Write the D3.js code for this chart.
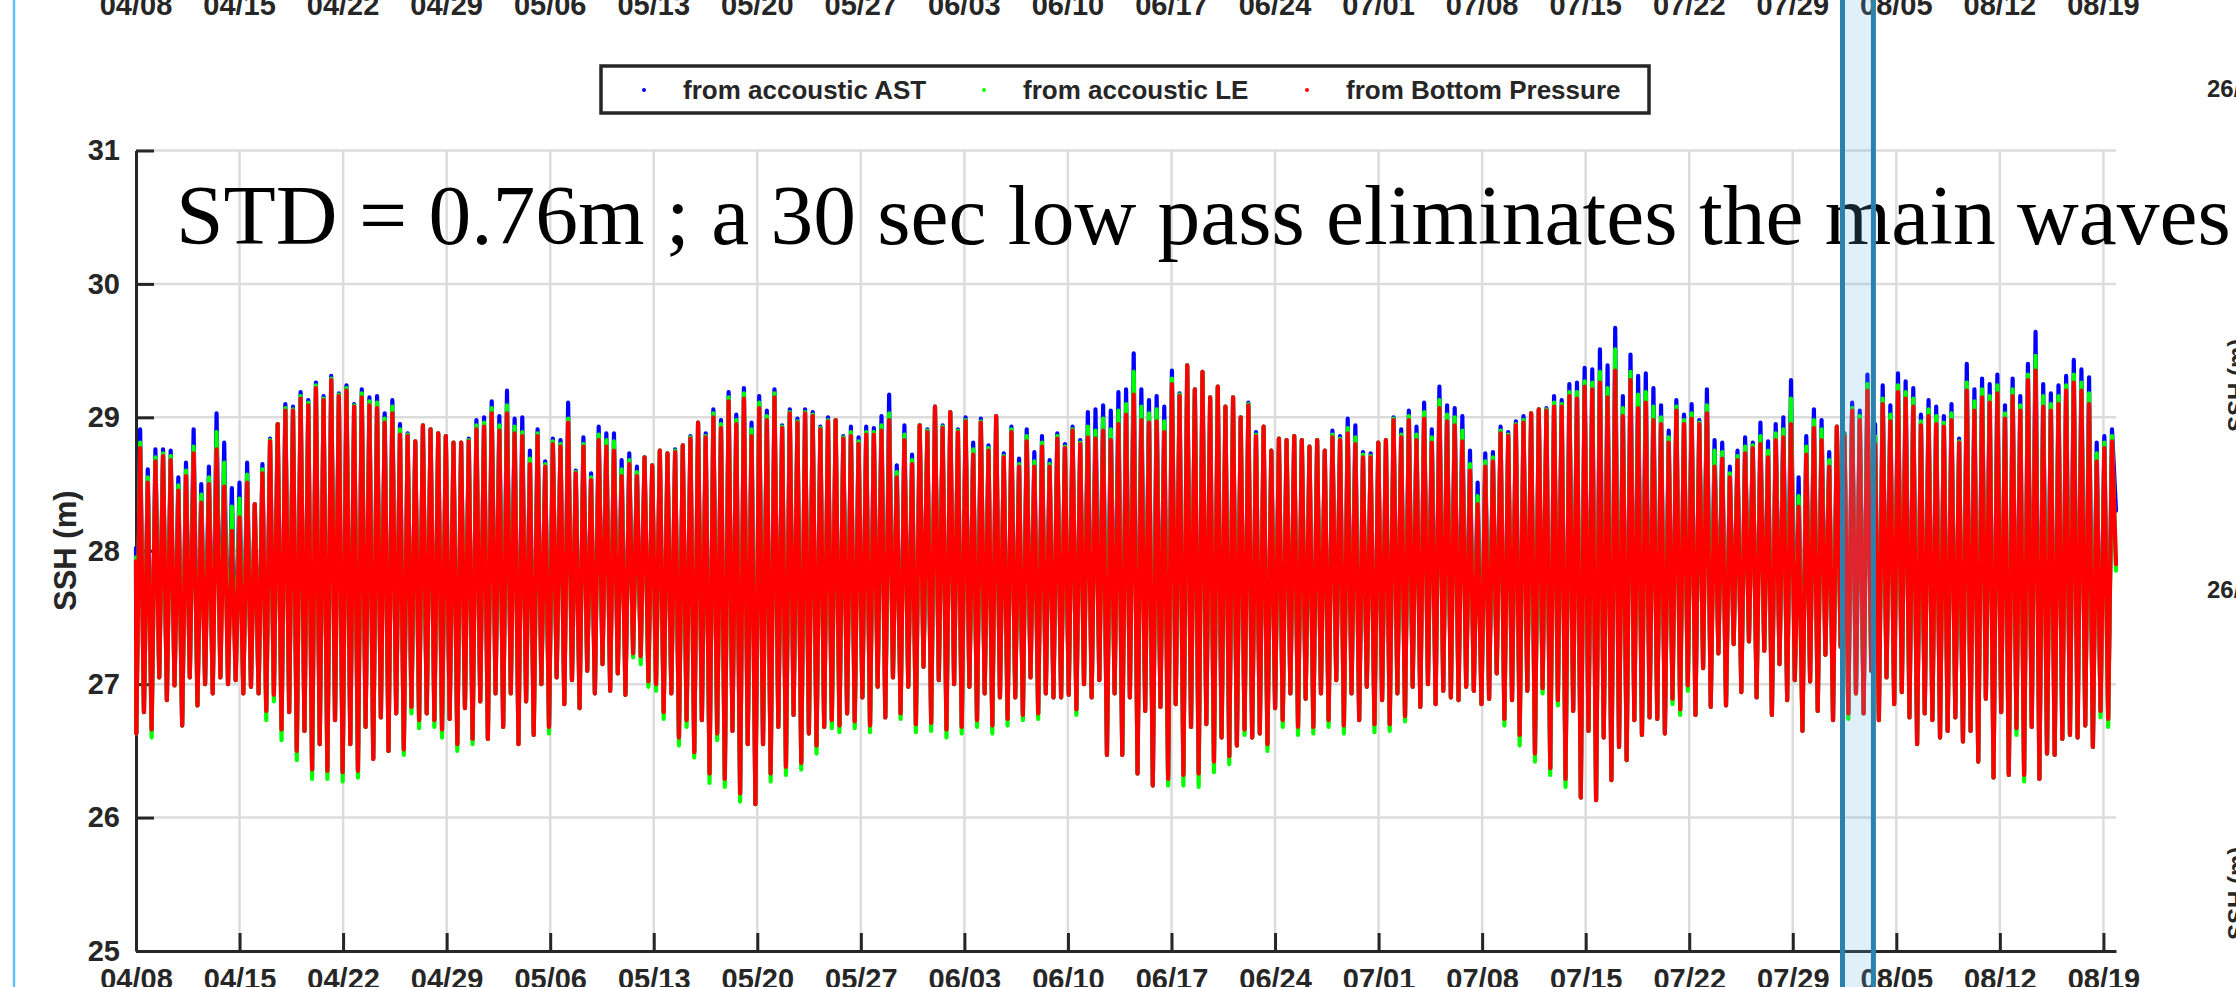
<!DOCTYPE html>
<html>
<head>
<meta charset="utf-8">
<script src="https://cdn.jsdelivr.net/npm/d3@7"></script>
<style>
  html, body { margin: 0; padding: 0; background: #fff; }
  svg { display: block; }
  .sans { font-family: "Liberation Sans", Arial, Helvetica, sans-serif; font-weight: bold; fill: #262626; }
</style>
</head>
<body>
<svg id="chart" width="2236" height="987"></svg>
<script>
const WIDTH = 2236;
const HEIGHT = 987;
const YEAR = 2018;

// axis ticks
const yTicks = [25, 26, 27, 28, 29, 30, 31];
const xTickLabels = ["04/08", "04/15", "04/22", "04/29", "05/06", "05/13", "05/20", "05/27", "06/03", "06/10",
  "06/17", "06/24", "07/01", "07/08", "07/15", "07/22", "07/29", "08/05", "08/12", "08/19"];

const seriesNames = ["from accoustic AST", "from accoustic LE", "from Bottom Pressure"];
const seriesColors = ["#0000ff", "#00ff00", "#ff0000"];
const note = "STD = 0.76m ; a 30 sec low pass eliminates the main waves";

// record timing: first low water and the semidiurnal step between extremes
const recordStart = "2018/04/08 00:00";
const recordEnd = "2018/08/19 20:24";
const firstLowAt = "2018/04/08 00:30";
const tideStepHours = 12.4;

// highlighted window
const windowStart = "2018/08/01 08:40";
const windowEnd = "2018/08/03 10:50";

// first and last samples of each series [AST, LE, BP]
const startLevels = [28.02, 27.95, 27.92];
const endLevels = [28.30, 27.85, 27.90];

// high waters, one per tidal cycle (m)
const blueHigh = [
  28.91, 28.61, 28.76, 28.76, 28.75, 28.55, 28.66, 28.91, 28.50, 28.63,
  29.03, 28.81, 28.47, 28.51, 28.66, 28.35, 28.65, 28.84, 28.95, 29.10,
  29.08, 29.19, 29.13, 29.26, 29.16, 29.31, 29.18, 29.24, 29.10, 29.21,
  29.15, 29.16, 29.03, 29.13, 28.95, 28.88, 28.82, 28.94, 28.91, 28.88,
  28.86, 28.81, 28.81, 28.84, 28.98, 29.00, 29.12, 29.01, 29.20, 28.99,
  29.00, 28.75, 28.91, 28.67, 28.84, 28.83, 29.11, 28.60, 28.85, 28.58,
  28.93, 28.88, 28.88, 28.68, 28.73, 28.63, 28.70, 28.64, 28.75, 28.73,
  28.76, 28.79, 28.86, 28.96, 28.88, 29.06, 28.98, 29.19, 29.02, 29.22,
  28.96, 29.16, 29.05, 29.21, 28.94, 29.06, 28.99, 29.06, 29.04, 28.93,
  29.00,
  28.98, 28.86, 28.93, 28.85, 28.93, 28.92, 29.01, 29.17, 28.64, 28.94,
  28.72, 28.94, 28.91, 29.08, 28.94, 29.04, 28.91, 29.00, 28.81, 28.99,
  28.79, 29.01, 28.73, 28.93, 28.69, 28.91, 28.74, 28.86, 28.68, 28.88,
  28.80, 28.93, 28.83, 29.04, 29.06, 29.09, 29.05, 29.19, 29.21, 29.48,
  29.21, 29.13, 29.16, 29.08, 29.35, 29.18, 29.39, 29.21, 29.34, 29.15,
  29.23, 29.08, 29.15, 29.00, 29.11, 28.89, 28.93, 28.75, 28.84, 28.83,
  28.86, 28.83, 28.78, 28.83, 28.75, 28.90, 28.86, 28.99, 28.94, 28.74,
  28.73, 28.81, 28.83, 29.00, 28.91, 29.05, 28.93, 29.11, 28.91, 29.23,
  29.09, 29.07, 29.01, 28.75, 28.51, 28.73, 28.74, 28.93, 28.89, 28.97,
  29.01,
  29.03, 29.06, 29.07, 29.16, 29.13, 29.25, 29.26, 29.37, 29.36, 29.51,
  29.39, 29.67, 29.16, 29.47, 29.31, 29.33, 29.22, 29.09, 28.90, 29.13,
  29.02, 29.10, 28.98, 29.21, 28.83, 28.81, 28.63, 28.75, 28.85, 28.81,
  28.96, 28.82, 28.95, 29.00, 29.28, 28.55, 28.86, 29.06, 28.98, 28.74,
  28.93, 28.88, 29.11, 29.05, 29.32, 28.95, 29.24, 29.09, 29.33, 29.27,
  29.22, 29.02, 29.13, 29.08, 29.01, 29.10, 28.84, 29.40, 29.21, 29.29,
  29.25, 29.32, 29.09, 29.29, 29.16, 29.40, 29.64, 29.25, 29.18, 29.24,
  29.31, 29.43, 29.36, 29.30, 28.81, 28.86, 28.91
];

const greenHigh = [
  28.81, 28.55, 28.70, 28.73, 28.71, 28.49, 28.60, 28.78, 28.42, 28.55,
  28.89, 28.66, 28.33, 28.39, 28.57, 28.35, 28.61, 28.83, 28.95, 29.07,
  29.06, 29.16, 29.11, 29.24, 29.14, 29.29, 29.17, 29.22, 29.09, 29.18,
  29.12, 29.11, 28.99, 29.08, 28.91, 28.87, 28.82, 28.94, 28.91, 28.88,
  28.86, 28.81, 28.81, 28.83, 28.94, 28.96, 29.07, 28.94, 29.09, 28.93,
  28.89, 28.69, 28.88, 28.65, 28.82, 28.80, 28.99, 28.59, 28.80, 28.55,
  28.87, 28.83, 28.82, 28.61, 28.68, 28.59, 28.70, 28.64, 28.75, 28.73,
  28.75, 28.79, 28.85, 28.96, 28.86, 29.03, 28.95, 29.15, 28.98, 29.18,
  28.91, 29.11, 29.01, 29.18, 28.93, 29.04, 28.97, 29.04, 29.02, 28.92,
  28.98,
  28.98, 28.85, 28.89, 28.82, 28.89, 28.89, 28.94, 29.03, 28.59, 28.87,
  28.68, 28.94, 28.90, 29.08, 28.93, 29.04, 28.90, 28.98, 28.76, 28.97,
  28.77, 29.01, 28.71, 28.91, 28.65, 28.86, 28.67, 28.81, 28.65, 28.86,
  28.78, 28.91, 28.81, 28.93, 28.90, 28.99, 28.91, 29.05, 29.10, 29.34,
  29.08, 29.03, 29.06, 28.97, 29.29, 29.17, 29.39, 29.21, 29.34, 29.15,
  29.23, 29.08, 29.15, 29.00, 29.10, 28.87, 28.93, 28.75, 28.84, 28.83,
  28.86, 28.83, 28.78, 28.83, 28.75, 28.87, 28.84, 28.92, 28.85, 28.72,
  28.71, 28.81, 28.83, 28.99, 28.87, 29.01, 28.87, 29.04, 28.85, 29.13,
  29.02, 29.00, 28.90, 28.65, 28.41, 28.67, 28.70, 28.90, 28.87, 28.95,
  28.98,
  29.03, 29.06, 29.06, 29.11, 29.10, 29.19, 29.19, 29.27, 29.26, 29.34,
  29.22, 29.51, 29.07, 29.34, 29.17, 29.19, 29.08, 29.00, 28.85, 29.08,
  28.98, 29.03, 28.96, 29.09, 28.75, 28.74, 28.58, 28.71, 28.78, 28.79,
  28.86, 28.75, 28.88, 28.91, 29.14, 28.41, 28.78, 28.98, 28.91, 28.68,
  28.93, 28.87, 29.07, 29.01, 29.25, 28.86, 29.14, 29.02, 29.24, 29.19,
  29.14, 28.97, 29.06, 29.01, 28.96, 29.03, 28.82, 29.26, 29.12, 29.21,
  29.16, 29.24, 29.03, 29.21, 29.09, 29.32, 29.46, 29.16, 29.10, 29.16,
  29.24, 29.32, 29.26, 29.18, 28.73, 28.81, 28.86
];

const redHigh = [
  28.77, 28.51, 28.67, 28.71, 28.68, 28.45, 28.56, 28.73, 28.36, 28.50,
  28.76, 28.48, 28.15, 28.25, 28.51, 28.35, 28.58, 28.82, 28.95, 29.05,
  29.05, 29.14, 29.09, 29.22, 29.13, 29.28, 29.16, 29.20, 29.08, 29.15,
  29.09, 29.07, 28.96, 29.03, 28.87, 28.86, 28.82, 28.94, 28.91, 28.88,
  28.86, 28.81, 28.81, 28.82, 28.91, 28.93, 29.03, 28.90, 29.03, 28.88,
  28.86, 28.65, 28.86, 28.63, 28.80, 28.78, 28.96, 28.58, 28.78, 28.53,
  28.83, 28.78, 28.75, 28.56, 28.65, 28.56, 28.70, 28.64, 28.75, 28.73,
  28.74, 28.79, 28.84, 28.96, 28.85, 29.00, 28.92, 29.12, 28.95, 29.14,
  28.86, 29.07, 28.98, 29.15, 28.92, 29.03, 28.96, 29.03, 29.01, 28.91,
  28.97,
  28.98, 28.84, 28.86, 28.80, 28.87, 28.87, 28.90, 28.98, 28.55, 28.83,
  28.65, 28.94, 28.89, 29.08, 28.92, 29.04, 28.89, 28.97, 28.72, 28.96,
  28.75, 29.01, 28.70, 28.89, 28.63, 28.82, 28.63, 28.78, 28.63, 28.84,
  28.77, 28.90, 28.80, 28.85, 28.84, 28.90, 28.83, 28.95, 29.02, 29.17,
  28.98, 28.96, 28.97, 28.89, 29.25, 29.16, 29.39, 29.21, 29.34, 29.15,
  29.23, 29.08, 29.15, 29.00, 29.09, 28.86, 28.93, 28.75, 28.84, 28.83,
  28.86, 28.83, 28.78, 28.83, 28.75, 28.85, 28.83, 28.88, 28.80, 28.70,
  28.70, 28.81, 28.83, 28.98, 28.85, 28.98, 28.83, 28.99, 28.81, 29.07,
  28.97, 28.94, 28.82, 28.60, 28.35, 28.63, 28.67, 28.88, 28.86, 28.94,
  28.96,
  29.03, 29.06, 29.05, 29.08, 29.08, 29.16, 29.14, 29.23, 29.21, 29.26,
  29.15, 29.35, 29.01, 29.28, 29.07, 29.11, 28.98, 28.95, 28.81, 29.05,
  28.95, 28.99, 28.95, 29.03, 28.63, 28.69, 28.55, 28.68, 28.73, 28.77,
  28.80, 28.70, 28.83, 28.85, 28.95, 28.33, 28.72, 28.92, 28.83, 28.63,
  28.93, 28.86, 29.05, 28.98, 29.20, 28.80, 29.10, 28.97, 29.19, 29.14,
  29.08, 28.94, 29.01, 28.95, 28.93, 28.98, 28.81, 29.20, 29.05, 29.15,
  29.11, 29.18, 28.99, 29.16, 29.05, 29.28, 29.35, 29.08, 29.05, 29.10,
  29.20, 29.26, 29.20, 29.10, 28.67, 28.77, 28.82
];

// low waters, one per tidal cycle (m)
const greenLow = [
  26.63, 26.79, 26.60, 27.05, 26.88, 26.99, 26.69, 27.05, 26.84, 27.00,
  26.93, 27.05, 27.00, 27.03, 26.93, 26.98, 26.93, 26.73, 26.87, 26.58,
  26.79, 26.43, 26.65, 26.29, 26.55, 26.29, 26.73, 26.27, 26.55, 26.30,
  26.68, 26.44, 26.75, 26.50, 26.78, 26.47, 26.78, 26.67, 26.78, 26.68,
  26.60, 26.74, 26.50, 26.82, 26.55, 26.87, 26.59, 26.93, 26.68, 26.93,
  26.55, 26.87, 26.62, 27.00, 26.63, 27.05, 26.85, 27.03, 26.82, 27.10,
  26.93, 27.15, 26.95, 27.08, 26.92, 27.20, 27.15, 26.98, 26.95, 26.74,
  26.93, 26.54, 26.68, 26.45, 26.73, 26.26, 26.58, 26.23, 26.65, 26.12,
  26.55, 26.10, 26.55, 26.27, 26.68, 26.32, 26.77, 26.36, 26.63, 26.48,
  26.68,
  26.67, 26.64, 26.78, 26.67, 26.90, 26.64, 26.98, 26.75, 27.05, 26.74,
  26.98, 26.64, 27.13, 26.65, 27.03, 26.60, 27.00, 26.63, 26.98, 26.68,
  26.93, 26.63, 26.90, 26.69, 26.90, 26.73, 27.05, 26.74, 26.93, 26.90,
  26.90, 26.92, 26.77, 27.00, 26.90, 27.03, 26.47, 26.93, 26.47, 26.90,
  26.33, 26.80, 26.24, 26.83, 26.24, 26.85, 26.24, 26.68, 26.23, 26.70,
  26.34, 26.60, 26.40, 26.54, 26.62, 26.60, 26.63, 26.50, 26.82, 26.68,
  26.93, 26.62, 26.89, 26.63, 26.93, 26.68, 27.03, 26.63, 26.93, 26.73,
  26.98, 26.64, 26.88, 26.65, 26.93, 26.72, 26.98, 26.83, 27.00, 26.85,
  26.95, 26.90, 26.88, 26.98, 26.95, 26.85, 26.89, 27.08, 26.69, 26.88,
  26.54,
  26.95, 26.42, 26.93, 26.32, 26.84, 26.23, 26.80, 26.15, 26.65, 26.13,
  26.60, 26.28, 26.53, 26.43, 26.73, 26.62, 26.75, 26.74, 26.63, 26.85,
  26.77, 26.95, 26.77, 27.12, 26.83, 27.23, 26.84, 27.30, 26.94, 27.32,
  26.90, 27.25, 26.77, 27.15, 26.88, 27.03, 26.65, 27.02, 26.80, 27.22,
  26.73, 27.28, 26.74, 26.93, 26.78, 27.10, 26.73, 27.05, 26.85, 26.94,
  26.75, 26.55, 26.78, 26.73, 26.60, 26.65, 26.75, 26.57, 26.65, 26.42,
  26.89, 26.30, 26.79, 26.32, 26.62, 26.27, 26.68, 26.29, 26.48, 26.47,
  26.59, 26.62, 26.60, 26.69, 26.53, 26.75, 26.68
];

const redLow = [
  26.63, 26.79, 26.66, 27.05, 26.88, 26.99, 26.69, 27.05, 26.84, 27.00,
  26.93, 27.05, 27.00, 27.03, 26.93, 26.98, 26.93, 26.80, 26.92, 26.66,
  26.79, 26.50, 26.65, 26.36, 26.55, 26.35, 26.73, 26.34, 26.55, 26.35,
  26.68, 26.44, 26.75, 26.50, 26.78, 26.51, 26.83, 26.73, 26.78, 26.73,
  26.66, 26.74, 26.55, 26.82, 26.59, 26.87, 26.59, 26.93, 26.68, 26.93,
  26.55, 26.87, 26.62, 27.00, 26.68, 27.05, 26.85, 27.03, 26.82, 27.10,
  26.93, 27.15, 26.95, 27.08, 26.92, 27.23, 27.21, 27.02, 27.00, 26.79,
  26.93, 26.60, 26.73, 26.49, 26.73, 26.33, 26.63, 26.29, 26.65, 26.18,
  26.55, 26.10, 26.55, 26.33, 26.68, 26.38, 26.77, 26.41, 26.63, 26.54,
  26.68,
  26.73, 26.69, 26.78, 26.72, 26.90, 26.69, 26.98, 26.75, 27.05, 26.78,
  26.98, 26.70, 27.13, 26.71, 27.03, 26.66, 27.00, 26.68, 26.98, 26.73,
  26.93, 26.69, 26.90, 26.74, 26.90, 26.77, 27.05, 26.78, 26.93, 26.90,
  26.90, 26.92, 26.81, 27.00, 26.90, 27.03, 26.47, 26.93, 26.47, 26.90,
  26.33, 26.80, 26.24, 26.83, 26.29, 26.85, 26.32, 26.68, 26.33, 26.70,
  26.42, 26.60, 26.46, 26.54, 26.66, 26.60, 26.63, 26.55, 26.82, 26.73,
  26.93, 26.68, 26.89, 26.68, 26.93, 26.73, 27.03, 26.69, 26.93, 26.73,
  26.98, 26.70, 26.88, 26.70, 26.93, 26.76, 26.98, 26.83, 27.00, 26.85,
  26.95, 26.90, 26.88, 26.98, 26.95, 26.85, 26.89, 27.08, 26.74, 26.88,
  26.62,
  26.95, 26.48, 26.97, 26.37, 26.88, 26.29, 26.80, 26.15, 26.65, 26.13,
  26.60, 26.28, 26.53, 26.43, 26.73, 26.62, 26.75, 26.74, 26.63, 26.89,
  26.81, 26.99, 26.77, 27.12, 26.83, 27.23, 26.84, 27.30, 26.94, 27.32,
  26.90, 27.25, 26.77, 27.15, 26.88, 27.03, 26.65, 27.02, 26.80, 27.22,
  26.73, 27.28, 26.78, 26.93, 26.78, 27.10, 26.73, 27.05, 26.85, 26.94,
  26.75, 26.55, 26.78, 26.73, 26.60, 26.65, 26.75, 26.57, 26.65, 26.42,
  26.89, 26.30, 26.79, 26.32, 26.67, 26.32, 26.68, 26.29, 26.48, 26.47,
  26.59, 26.62, 26.60, 26.69, 26.53, 26.80, 26.74
];
// AST low waters sit under the BP trace everywhere (never visible)
const blueLow = redLow;

const parseTime = d3.utcParse("%Y/%m/%d %H:%M");
const parseDay = d3.utcParse("%Y/%m/%d");

function buildSeries(lows, highs, startV, endV) {
  const t0 = parseTime(firstLowAt);
  const pts = [{ t: parseTime(recordStart), v: startV }];
  for (let i = 0; i < highs.length; i++) {
    pts.push({ t: d3.utcMinute.offset(t0, Math.round(i * tideStepHours * 60)), v: lows[i] });
    pts.push({ t: d3.utcMinute.offset(t0, Math.round((i + 0.5) * tideStepHours * 60)), v: highs[i] });
  }
  pts.push({ t: parseTime(recordEnd), v: endV });
  return pts;
}

const series = [
  buildSeries(blueLow, blueHigh, startLevels[0], endLevels[0]),
  buildSeries(greenLow, greenHigh, startLevels[1], endLevels[1]),
  buildSeries(redLow, redHigh, startLevels[2], endLevels[2])
];

const plot = { left: 136, right: 2116, top: 150.5, bottom: 951 };
const x = d3.scaleUtc().domain([parseTime(recordStart), parseTime(recordEnd)]).range([plot.left, plot.right]);
const y = d3.scaleLinear().domain([25, 31]).range([plot.bottom, plot.top]);
const tickDates = xTickLabels.map(s => parseDay(YEAR + "/" + s));
const fmt = d3.utcFormat("%m/%d");

const svg = d3.select("#chart");

// neighbouring panel edge (left)
svg.append("line").attr("x1", 14).attr("x2", 14).attr("y1", 0).attr("y2", HEIGHT)
  .attr("stroke", "#5bc4f0").attr("stroke-width", 2.5);

// tick labels of the panel above, cut by the page top
svg.append("g").selectAll("text").data(tickDates).join("text")
  .attr("class", "sans").attr("x", d => x(d)).attr("y", 15)
  .attr("text-anchor", "middle").attr("font-size", 29).text(d => fmt(d));

// grid
const grid = svg.append("g").attr("stroke", "#dcdcdc").attr("stroke-width", 2.5);
grid.selectAll(".h").data(yTicks.filter(v => v > 25)).join("line").attr("class", "h")
  .attr("x1", plot.left).attr("x2", plot.right).attr("y1", d => y(d)).attr("y2", d => y(d));
grid.selectAll(".v").data(tickDates.slice(1)).join("line").attr("class", "v")
  .attr("x1", d => x(d)).attr("x2", d => x(d)).attr("y1", plot.top).attr("y2", plot.bottom);

// axes
const yAxis = svg.append("g").attr("transform", `translate(${plot.left},0)`)
  .call(d3.axisLeft(y).tickValues(yTicks).tickFormat(d3.format("d")).tickSize(-18).tickSizeOuter(0).tickPadding(16));
const xAxis = svg.append("g").attr("transform", `translate(0,${plot.bottom})`)
  .call(d3.axisBottom(x).tickValues(tickDates).tickFormat(fmt).tickSize(-18).tickSizeOuter(0).tickPadding(17));
[yAxis, xAxis].forEach(a => {
  a.attr("color", "#262626").attr("font-size", 29)
    .attr("font-family", '"Liberation Sans", Arial, Helvetica, sans-serif').attr("font-weight", "bold");
  a.selectAll("path, line").attr("stroke-width", 3);
});

svg.append("text").attr("class", "sans").attr("font-size", 31)
  .attr("transform", `translate(76,${y(28)}) rotate(-90)`).attr("text-anchor", "middle")
  .text("SSH (m)");

// data: AST, LE, then BP on top
const line = d3.line().x(d => x(d.t)).y(d => y(d.v));
svg.append("g").selectAll("path").data(series).join("path")
  .attr("d", line).attr("fill", "none")
  .attr("stroke", (d, i) => seriesColors[i])
  .attr("stroke-width", 4.2).attr("stroke-linejoin", "round").attr("stroke-linecap", "round");

// annotation
svg.append("text").attr("x", 176).attr("y", 244)
  .attr("font-family", '"Liberation Serif", "Times New Roman", serif').attr("font-size", 85.5)
  .attr("fill", "#000").text(note);

// legend
const legend = svg.append("g");
legend.append("rect").attr("x", 601).attr("y", 66).attr("width", 1048).attr("height", 47)
  .attr("fill", "#fff").attr("stroke", "#262626").attr("stroke-width", 3.5);
const legendX = [644, 984, 1307];
seriesNames.forEach((name, i) => {
  legend.append("circle").attr("cx", legendX[i]).attr("cy", 90).attr("r", 2).attr("fill", seriesColors[i]);
  legend.append("text").attr("class", "sans").attr("x", legendX[i] + 39).attr("y", 99)
    .attr("font-size", 26).text(name);
});

// bits of the neighbouring panel on the right
const right = svg.append("g").attr("class", "sans");
right.append("text").attr("x", 2207).attr("y", 97).attr("font-size", 24).text("26/08");
right.append("text").attr("x", 2207).attr("y", 598).attr("font-size", 24).text("26/08");
right.append("text").attr("font-size", 24).attr("transform", "translate(2245,432) rotate(-90)").text("SSH (m)");
right.append("text").attr("font-size", 24).attr("transform", "translate(2245,940) rotate(-90)").text("SSH (m)");

// highlighted window
const band = [parseTime(windowStart), parseTime(windowEnd)];
svg.append("rect").attr("x", x(band[0])).attr("width", x(band[1]) - x(band[0]))
  .attr("y", 0).attr("height", HEIGHT).attr("fill", "rgb(100,180,230)").attr("fill-opacity", 0.2);
svg.append("g").selectAll("line").data(band).join("line")
  .attr("x1", d => x(d)).attr("x2", d => x(d)).attr("y1", 0).attr("y2", HEIGHT)
  .attr("stroke", "#2b82ad").attr("stroke-width", 5);
</script>
</body>
</html>
